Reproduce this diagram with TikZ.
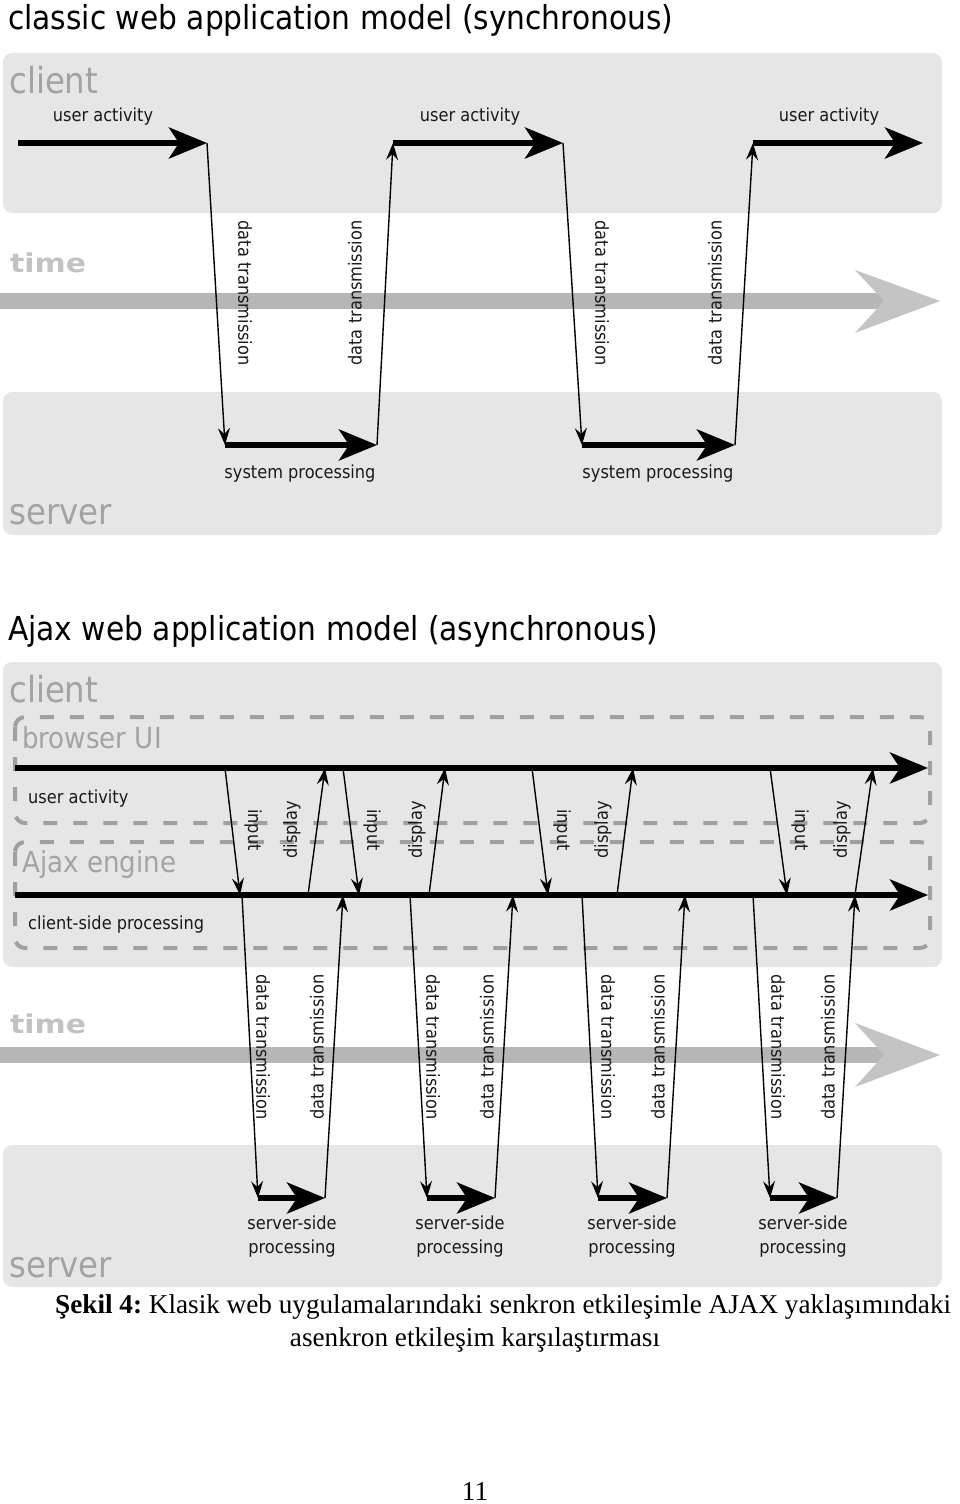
\documentclass[tikz,border=0pt]{standalone}
\usepackage{fontspec}
\setmainfont{Liberation Serif}
\newfontfamily\dv[FakeStretch=0.9]{DejaVu Sans}
\newfontfamily\dvt[FakeStretch=1.15]{DejaVu Sans}
\usetikzlibrary{arrows.meta}
\frenchspacing
\definecolor{boxgrey}{HTML}{E6E6E6}
\definecolor{labgrey}{HTML}{A3A3A3}
\definecolor{timegrey}{HTML}{C2C2C2}
\definecolor{bargrey}{HTML}{B6B6B6}
\definecolor{headgrey}{HTML}{C4C4C4}
\definecolor{dashgrey}{HTML}{A0A0A0}
\definecolor{txt}{HTML}{1A1A1A}
\tikzset{
 lbl/.style={inner sep=0pt, font=\dv\fontsize{18}{24}\selectfont, text=txt},
 biglbl/.style={inner sep=0pt, anchor=base west, font=\dv\fontsize{36}{40}\selectfont, text=labgrey},
 midlbl/.style={inner sep=0pt, anchor=base west, font=\dv\fontsize{29}{32}\selectfont, text=labgrey},
 ttl/.style={inner sep=0pt, anchor=base west, font=\dv\fontsize{33}{36}\selectfont, text=black},
 timelbl/.style={inner sep=0pt, anchor=base west, font=\dvt\bfseries\fontsize{26}{30}\selectfont, text=timegrey},
 boxbg/.style={fill=boxgrey, rounded corners=9pt},
 dashbox/.style={draw=dashgrey, line width=4pt, dash pattern=on 14pt off 16pt, rounded corners=10pt},
 tharrow/.style={line width=5.5pt, -{Stealth[length=38pt,width=31pt,inset=10pt]}},
 tnarrow/.style={line width=1.4pt, -{Stealth[length=17pt,width=12pt,inset=6pt]}},
 timebar/.style={line width=16pt, draw=bargrey},
 timehead/.style={fill=headgrey},
 dn/.style={lbl, rotate=-90},
 up/.style={lbl, rotate=90},
 capf/.style={inner sep=0pt, font=\fontsize{27.2}{33}\selectfont}
}
\begin{document}
\begin{tikzpicture}[x=1pt,y=-1pt]
\useasboundingbox (0,0) rectangle (960,1504);
\fill[white] (0,0) rectangle (960,1504);

% ===== classic =====
\node[ttl] (title1) at (8,30) {classic web application model (synchronous)};
\fill[boxbg] (3,53) rectangle (942,213);
\fill[boxbg] (3,392) rectangle (942,535);
\node[biglbl] (cl1) at (9,93) {client};
\node[timelbl] (tm1) at (10,272) {time};
\node[biglbl] (sv1) at (9,524) {server};

\coordinate (tb1s) at (0,301);
\coordinate (tb1e) at (888,301);
\draw[timebar] (tb1s) -- (tb1e);
\fill[timehead] (940,301) -- (855,270) -- (884,301) -- (855,333) -- cycle;

\coordinate (ua1s) at (18,143);  \coordinate (ua1e) at (207,143);
\coordinate (sp1s) at (225,445); \coordinate (sp1e) at (377,445);
\coordinate (ua2s) at (393,143); \coordinate (ua2e) at (563,143);
\coordinate (sp2s) at (582,445); \coordinate (sp2e) at (735,445);
\coordinate (ua3s) at (753,143); \coordinate (ua3e) at (923,143);

\draw[tharrow] (ua1s) -- (ua1e);
\draw[tharrow] (ua2s) -- (ua2e);
\draw[tharrow] (ua3s) -- (ua3e);
\draw[tharrow] (sp1s) -- (sp1e);
\draw[tharrow] (sp2s) -- (sp2e);
\draw[tnarrow] (ua1e) -- (sp1s);
\draw[tnarrow] (sp1e) -- (ua2s);
\draw[tnarrow] (ua2e) -- (sp2s);
\draw[tnarrow] (sp2e) -- (ua3s);

\node[lbl, anchor=base] (ual1) at (103,121) {user activity};
\node[lbl, anchor=base] (ual2) at (470,121) {user activity};
\node[lbl, anchor=base] (ual3) at (829,121) {user activity};
\node[lbl, anchor=base] (spl1) at (300,478) {system processing};
\node[lbl, anchor=base] (spl2) at (658,478) {system processing};
\node[dn] (cdt1) at (245,293) {data transmission};
\node[up] (cdt2) at (355,293) {data transmission};
\node[dn] (cdt3) at (602,293) {data transmission};
\node[up] (cdt4) at (715,293) {data transmission};

% ===== ajax =====
\node[ttl] (title2) at (8,640) {Ajax web application model (asynchronous)};
\fill[boxbg] (3,662) rectangle (942,967);
\fill[boxbg] (3,1145) rectangle (942,1287);
\draw[dashbox] (15,717) rectangle (930,823);
\draw[dashbox] (15,842) rectangle (930,948);
\node[biglbl] (cl2) at (9,702) {client};
\node[midlbl] (bui) at (22,748) {browser UI};
\node[midlbl] (aje) at (22,872) {Ajax engine};
\node[lbl, anchor=base west] (ua4) at (28,803) {user activity};
\node[lbl, anchor=base west] (csp) at (28,929) {client-side processing};
\node[timelbl] (tm2) at (10,1033) {time};
\node[biglbl] (sv2) at (9,1277) {server};

\coordinate (tb2s) at (0,1055);
\coordinate (tb2e) at (888,1055);
\draw[timebar] (tb2s) -- (tb2e);
\fill[timehead] (940,1055) -- (855,1023) -- (884,1055) -- (855,1087) -- cycle;

\coordinate (bus) at (15,768); \coordinate (bue) at (928,768);
\coordinate (aes) at (15,895); \coordinate (aee) at (928,895);
\draw[tharrow] (bus) -- (bue);
\draw[tharrow] (aes) -- (aee);

% input / display
\foreach \n/\a/\b/\c/\d in {1/225/240/308/325, 2/343/359/429/445, 3/532/548/617/633, 4/770/787/855/873}{
  \coordinate (in\n s) at (\a,768); \coordinate (in\n e) at (\b,895);
  \coordinate (ds\n s) at (\c,895); \coordinate (ds\n e) at (\d,768);
  \draw[tnarrow] (in\n s) -- (in\n e);
  \draw[tnarrow] (ds\n s) -- (ds\n e);
}
\node[dn] (inl1) at (253,830) {input};
\node[dn] (inl2) at (372,830) {input};
\node[dn] (inl3) at (562,830) {input};
\node[dn] (inl4) at (800,830) {input};
\node[up] (dsl1) at (292,830) {display};
\node[up] (dsl2) at (417,830) {display};
\node[up] (dsl3) at (603,830) {display};
\node[up] (dsl4) at (842,830) {display};

% server side
\foreach \n/\a/\b/\c/\d in {1/242/258/325/343, 2/410/427/495/513, 3/582/598/667/685, 4/753/770/837/855}{
  \coordinate (dd\n s) at (\a,895); \coordinate (ss\n s) at (\b,1198);
  \coordinate (ss\n e) at (\c,1198); \coordinate (du\n e) at (\d,895);
  \draw[tharrow] (ss\n s) -- (ss\n e);
  \draw[tnarrow] (dd\n s) -- (ss\n s);
  \draw[tnarrow] (ss\n e) -- (du\n e);
}
\node[dn] (adt1) at (263,1047) {data transmission};
\node[up] (adt2) at (317,1047) {data transmission};
\node[dn] (adt3) at (433,1047) {data transmission};
\node[up] (adt4) at (487,1047) {data transmission};
\node[dn] (adt5) at (608,1047) {data transmission};
\node[up] (adt6) at (658,1047) {data transmission};
\node[dn] (adt7) at (778,1047) {data transmission};
\node[up] (adt8) at (828,1047) {data transmission};
\node[lbl, align=center, anchor=base] (ssl1) at (292,1253) {server-side\\processing};
\node[lbl, align=center, anchor=base] (ssl2) at (460,1253) {server-side\\processing};
\node[lbl, align=center, anchor=base] (ssl3) at (632,1253) {server-side\\processing};
\node[lbl, align=center, anchor=base] (ssl4) at (803,1253) {server-side\\processing};

% ===== caption =====
\node[capf, anchor=base west] (cap1) at (55,1313) {\textbf{Şekil 4:} Klasik web uygulamalarındaki senkron etkileşimle AJAX yaklaşımındaki};
\node[capf, anchor=base] (cap2) at (475,1346) {asenkron etkileşim karşılaştırması};
\node[capf, anchor=base] (pg) at (475,1500) {11};
\end{tikzpicture}
\end{document}
